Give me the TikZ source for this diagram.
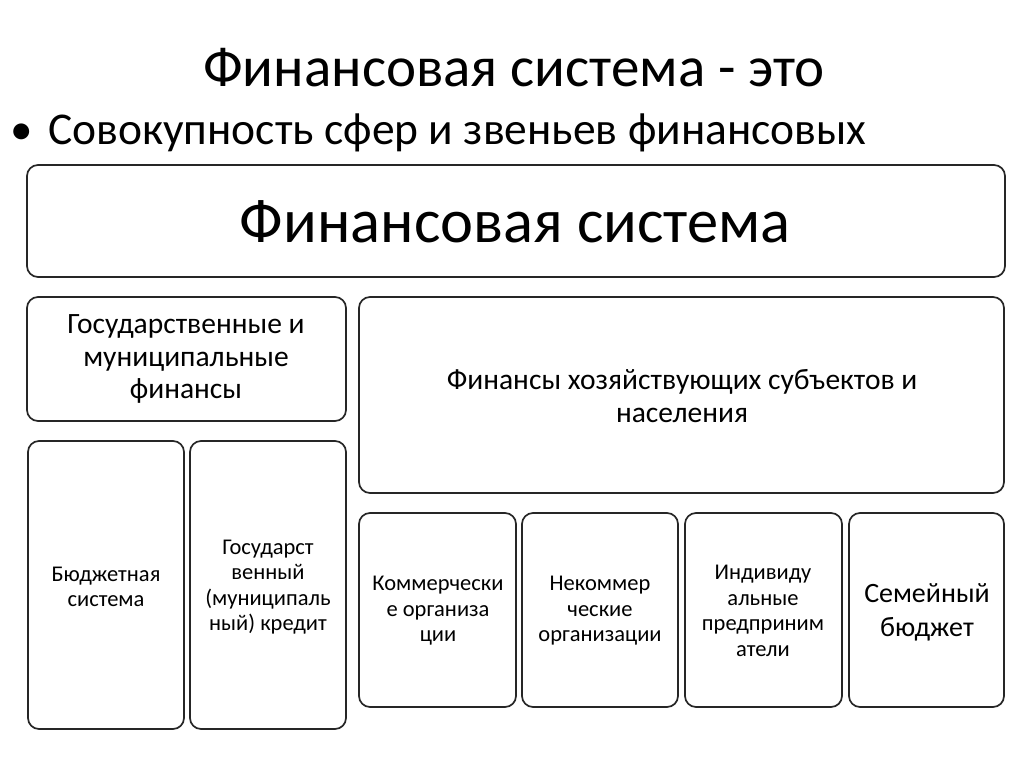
\documentclass[tikz,border=0pt]{standalone}
\usepackage{fontspec}
\setmainfont{Carlito}

\begin{document}
\begin{tikzpicture}[
  x=1pt, y=-1pt,
  every node/.style={inner sep=0pt, align=center},
  card/.style={draw=black!85, line width=1.7pt, rounded corners=11pt},
  small/.style={font=\fontsize{22.5}{25.5}\selectfont},
  mid/.style={font=\fontsize{29.5}{32.5}\selectfont}
]
\useasboundingbox (0,0) rectangle (1024,767);
% headings
\node[anchor=base] (title) at (514,87) {\fontsize{57}{60}\selectfont Финансовая система - это};
\node[anchor=base] (dot) at (22,145) {\fontsize{45}{48}\selectfont •};
\node[anchor=base west] (intro) at (48,145)
  {\fontsize{45.5}{48}\selectfont Совокупность сфер и звеньев финансовых};
% frames
\draw[card] (27,165) rectangle (1005,277);
\draw[card] (27,297) rectangle (346,421);
\draw[card] (359,297) rectangle (1004,493);
\draw[card] (28,441) rectangle (184,729);
\draw[card] (190,441) rectangle (346,729);
\draw[card] (359,513) rectangle (516,707);
\draw[card] (522,513) rectangle (678,707);
\draw[card] (685,513) rectangle (842,707);
\draw[card] (849,513) rectangle (1004,707);
% texts
\node[anchor=base] (fs) at (515,243) {\fontsize{62.5}{66}\selectfont Финансовая система};
\node[mid] (gmf) at (186,359) {Государственные и\\муниципальные\\финансы};
\node[mid] (fhs) at (682,396) {Финансы хозяйствующих субъектов и\\населения};
\node[small] (bs) at (106,587) {Бюджетная\\система};
\node[small] (gk) at (268,587) {Государст\\венный\\(муниципаль\\ный) кредит};
\node[small] (ko) at (438,611) {Коммерчески\\е организа\\ции};
\node[small] (nko) at (600,611) {Некоммер\\ческие\\организации};
\node[small] (ip) at (763,611) {Индивиду\\альные\\предприним\\атели};
\node[font=\fontsize{28}{34}\selectfont] (sb) at (927,612) {Семейный\\бюджет};
\end{tikzpicture}
\end{document}
